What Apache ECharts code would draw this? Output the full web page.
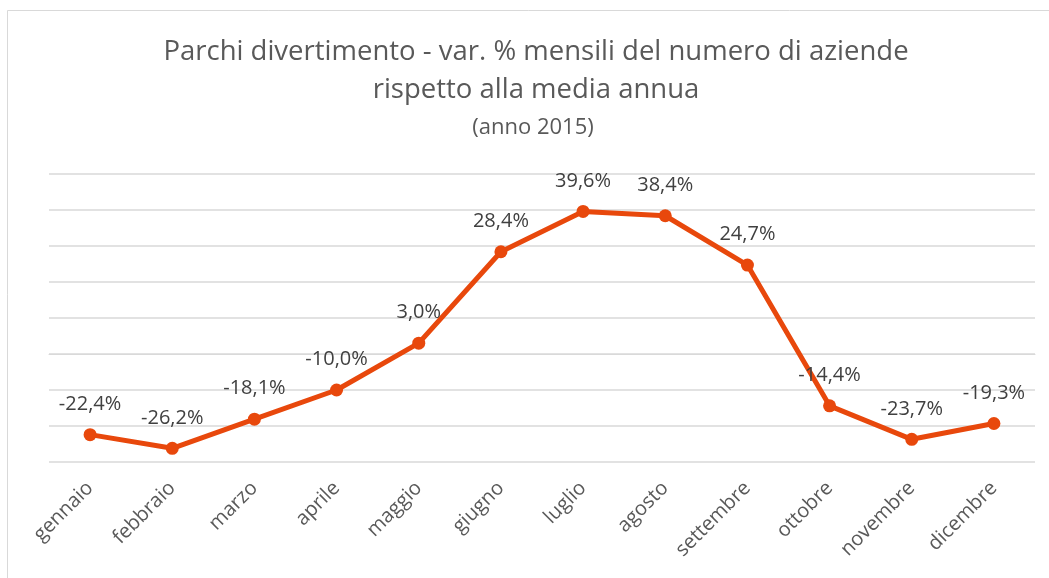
<!DOCTYPE html>
<html><head><meta charset="utf-8">
<script src="https://cdn.jsdelivr.net/npm/echarts@6/dist/echarts.min.js"></script>
<style>html,body{margin:0;padding:0;background:#fff}#c{width:1049px;height:578px}</style>
</head><body><div id="c"></div>
<script>
var categories = ['gennaio','febbraio','marzo','aprile','maggio','giugno','luglio','agosto','settembre','ottobre','novembre','dicembre'];
var values = [-22.4,-26.2,-18.1,-10.0,3.0,28.4,39.6,38.4,24.7,-14.4,-23.7,-19.3];
var titleLines = ['Parchi divertimento - var. % mensili del numero di aziende','rispetto alla media annua'];
var subtitle = '(anno 2015)';
var FONT = 'Open Sans';
var chart = echarts.init(document.getElementById('c'), null, {renderer:'canvas'});
chart.setOption({
  animation:false,
  backgroundColor:'#fff',
  graphic:[
    {type:'rect',shape:{x:7.5,y:10.5,width:1060,height:600},style:{fill:'none',stroke:'#d9d9d9',lineWidth:1}},
    {type:'text',x:536,y:33,style:{text:titleLines.join('\n'),align:'center',verticalAlign:'top',fontFamily:FONT,fontSize:27.5,fill:'#595959',lineHeight:38}},
    {type:'text',x:533,y:114,style:{text:subtitle,align:'center',verticalAlign:'top',fontFamily:FONT,fontSize:22,fill:'#595959',lineHeight:28}}
  ],
  grid:{left:49,right:14,top:174,bottom:116},
  xAxis:{type:'category',data:categories,boundaryGap:true,
    axisLine:{show:true,lineStyle:{color:'#d9d9d9',width:1}},axisTick:{show:false},
    axisLabel:{rotate:45,interval:0,margin:23,fontFamily:FONT,fontSize:20,color:'#595959'}},
  yAxis:{type:'value',min:-30,max:50,interval:10,axisLabel:{show:false},axisLine:{show:false},axisTick:{show:false},
    splitLine:{lineStyle:{color:'#d9d9d9',width:1.5}}},
  series:[{type:'line',data:values,symbol:'circle',symbolSize:13,
    lineStyle:{color:'#E8480C',width:5},itemStyle:{color:'#E8480C'},
    label:{show:true,position:'top',distance:14,fontFamily:FONT,fontSize:20,color:'#404040',
      formatter:function(p){return p.value.toFixed(1).replace('.',',')+'%';}}}]
});
</script></body></html>
